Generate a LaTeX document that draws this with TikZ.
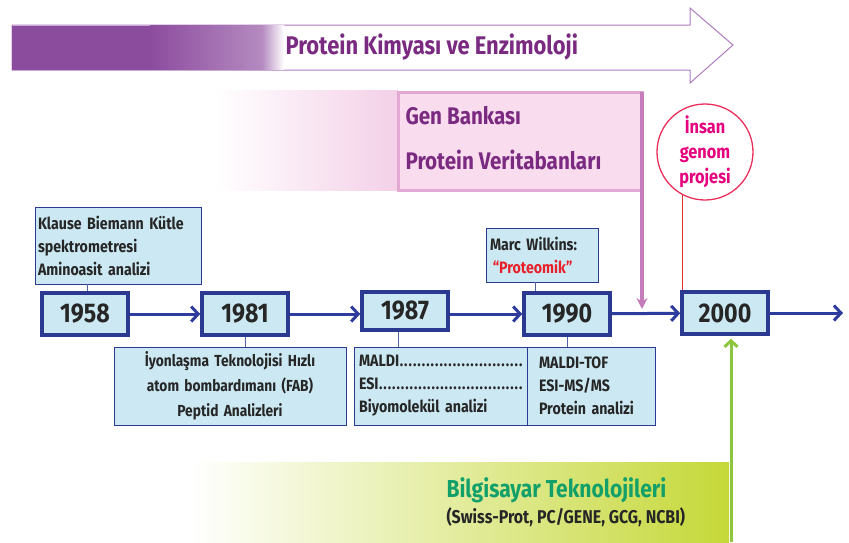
\documentclass[tikz,border=0pt]{standalone}
\usepackage{fontspec}
\setmainfont{Fira Sans}[FakeStretch=0.86]
\usetikzlibrary{arrows.meta,positioning,calc}
\definecolor{boxblue}{HTML}{2B3990}
\definecolor{boxfill}{HTML}{CCE9F3}
\definecolor{arrblue}{HTML}{2E3C9E}
\definecolor{purp}{HTML}{8C4C9E}
\definecolor{purptxt}{HTML}{7A2A80}
\definecolor{purpline}{HTML}{B07CC0}
\definecolor{pinkfill}{HTML}{F9DDEE}
\definecolor{pinkedge}{HTML}{E2A9D2}
\definecolor{pinkarrow}{HTML}{C47CBA}
\definecolor{magtxt}{HTML}{E5007D}
\definecolor{circedge}{HTML}{E8305A}
\definecolor{redline}{HTML}{E03030}
\definecolor{greentxt}{HTML}{12A06A}
\definecolor{lime}{HTML}{C5D838}
\definecolor{limeline}{HTML}{8CC63F}
\definecolor{proteomred}{HTML}{E8202A}
\tikzset{
  yearbox/.style={draw=boxblue, line width=3.5pt, fill=boxfill, minimum width=86pt, minimum height=42pt, inner sep=0pt, font=\fontsize{27}{29}\selectfont\bfseries, text=black!85},
  notebox/.style={draw=boxblue, line width=0.9pt, fill=boxfill, inner sep=0pt, font=\fontsize{16.5}{23}\selectfont\bfseries, text=black!85},
  tl/.style={draw=arrblue, line width=3pt, -{Straight Barb[length=7pt,width=15pt,line width=3pt]}},
  conn/.style={draw=boxblue!80, line width=1pt},
  bigtxt/.style={anchor=west, font=\fontsize{24.5}{26}\selectfont\bfseries},
}
\newcommand\dotrow[1]{\leavevmode\hbox to\hsize{#1\xleaders\hbox to 0.26em{\hss.\hss}\hfill}}
\begin{document}
\begin{tikzpicture}[x=1pt,y=-1pt]
\useasboundingbox (0,0) rectangle (849,542);
% ---- top arrow
\path[fill=white, draw=purpline, line width=1pt] (12,25) -- (690,25) -- (690,8) -- (733,45) -- (690,83) -- (690,70) -- (12,70) -- cycle;
\fill[purp] (12,25.5) rectangle (150,69.5);
\shade[left color=purp, right color=purp!65!white] (150,25.5) rectangle (262,69.5);
\shade[left color=purp!65!white, right color=white] (262,25.5) rectangle (284,69.5);
\node[bigtxt, text=purptxt, font=\fontsize{25.5}{27}\selectfont\bfseries] (t1) at (282,47) {Protein Kimyası ve Enzimoloji};
% ---- gen bankasi
\shade[left color=white, right color=pinkfill!75!pinkedge] (215,90) rectangle (398,190);
\path[fill=pinkfill, draw=pinkedge, line width=3pt] (398,92) rectangle (642,190);
\coordinate (gtop) at (642,92);
\coordinate (gend) at (642,309);
\draw[pinkarrow, line width=3.5pt, -{Stealth[length=11pt,width=11pt]}] (gtop) -- (gend);
\node[bigtxt, text=purptxt, font=\fontsize{24}{26}\selectfont\bfseries] (g1) at (402,116) {Gen Bankası};
\node[bigtxt, text=purptxt, font=\fontsize{24}{26}\selectfont\bfseries] (g2) at (402,160) {Protein Veritabanları};
% ---- green band
\shade[left color=white, right color=lime!75!white] (190,462) rectangle (600,542);
\shade[left color=lime!75!white, right color=lime] (600,462) rectangle (729,542);
\node[bigtxt, text=greentxt] (b1) at (443,490) {Bilgisayar Teknolojileri};
\node[anchor=west, text=black!85, font=\fontsize{18.5}{20}\selectfont\bfseries] (b2) at (443,517) {(Swiss-Prot, PC/GENE, GCG, NCBI)};
% ---- year boxes
\node[yearbox] (y1958) at (85,314) {1958};
\node[yearbox] (y1981) at (245,314) {1981};
\node[yearbox, minimum height=38pt] (y1987) at (405,311) {1987};
\node[yearbox] (y1990) at (567,314) {1990};
\node[yearbox] (y2000) at (725,313) {2000};
\coordinate (tend) at (843,313);
\draw[tl] (y1958) -- (y1981);
\draw[tl] (y1981) -- (y1987.west |- y1981);
\draw[tl] (y1987.east |- y1990) -- (y1990);
\draw[tl] (y1990) -- (y2000);
\draw[tl] (y2000) -- (tend);
% green arrow up
\coordinate (gr0) at (731,542);
\draw[limeline, line width=3pt, -{Straight Barb[length=6pt,width=13pt,line width=3pt]}] (gr0) -- ([xshift=6pt,yshift=-3pt]y2000.south);
% ---- circle
\node[circle, draw=circedge, line width=1.3pt, fill=white, minimum size=96pt, inner sep=0pt, align=center, text=magtxt, font=\fontsize{19}{25}\selectfont\bfseries] (ins) at (705,152) {İnsan\\genom\\projesi};
\draw[redline, line width=0.8pt] ($(ins.center)+(-23,42)$) -- ([xshift=-43pt]y2000.north);
% ---- notes
\node[notebox, minimum width=166pt, minimum height=77pt, text width=160pt, align=left] (k) at (118,245.5) {Klause Biemann Kütle\\spektrometresi\\Aminoasit analizi};
\node[notebox, minimum width=232pt, minimum height=78pt, text width=226pt, align=center, font=\fontsize{16}{25}\selectfont\bfseries] (n81) at (230,386) {İyonlaşma Teknolojisi Hızlı\\atom bombardımanı (FAB)\\Peptid Analizleri};
\node[notebox, minimum width=173pt, minimum height=78pt, text width=164pt, align=left] (n87) at (441,386) {\dotrow{MALDI}\\\dotrow{ESI}\\Biyomolekül analizi};
\node[notebox, minimum width=128pt, minimum height=78pt, text width=104pt, align=left] (n90) at (591,386) {MALDI-TOF\\ESI-MS/MS\\Protein analizi};
\node[notebox, minimum width=112pt, minimum height=54pt, text width=104pt, align=left] (mw) at (542,255) {Marc Wilkins:\\\textcolor{proteomred}{\,“Proteomik”}};
% connectors
\draw[conn] (k.south -| y1958.north) ++(2,0) coordinate (kc) -- (kc |- y1958.north);
\draw[conn] (y1981.south) -- (n81.north -| y1981.south);
\draw[conn] ([xshift=-7pt]y1987.south) -- ([xshift=-7pt]n87.north -| y1987.south);
\draw[conn] (y1990.south) -- (n90.north -| y1990.south);
\draw[conn] ([xshift=-7pt]mw.south) -- ([xshift=-7pt]y1990.north -| mw.south);
\end{tikzpicture}
\end{document}
